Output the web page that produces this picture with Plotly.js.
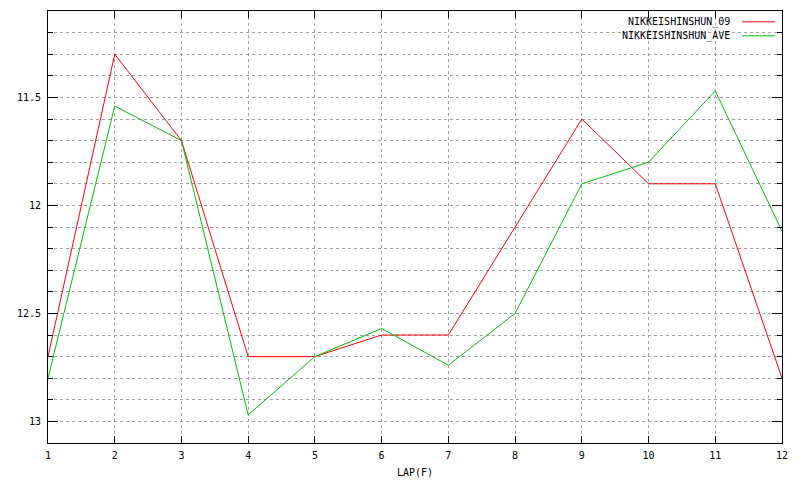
<!DOCTYPE html>
<html>
<head>
<meta charset="utf-8">
<script src="https://cdn.plot.ly/plotly-3.0.1.min.js"></script>
<style>html,body{margin:0;padding:0;background:#fff;}#chart{width:800px;height:480px;}</style>
</head>
<body>
<div id="chart"></div>
<script>
const laps = [1, 2, 3, 4, 5, 6, 7, 8, 9, 10, 11, 12];
const seriesNames = ["NIKKEISHINSHUN_09", "NIKKEISHINSHUN_AVE"];
const nikkei09 = [12.7, 11.3, 11.7, 12.7, 12.7, 12.6, 12.6, 12.1, 11.6, 11.9, 11.9, 12.8];
const nikkeiAve = [12.8, 11.54, 11.7, 12.97, 12.7, 12.57, 12.74, 12.5, 11.9, 11.8, 11.47, 12.12];
const yTickVals = [11.5, 12, 12.5, 13];
const yTickText = ["11.5", "12", "12.5", "13"];
const colors = ["#ff0000", "#00c000"];

const fontFam = "DejaVu Sans Mono, monospace";
const traces = [nikkei09, nikkeiAve].map((vals, i) => ({
  x: laps, y: vals, type: "scatter", mode: "lines", name: seriesNames[i],
  line: {color: colors[i], width: 1}, showlegend: false, hoverinfo: "skip"
}));

const annotations = [];
const shapes = [];
seriesNames.forEach((nm, i) => {
  const yy = 0.975 - i * 0.0325;
  annotations.push({xref: "paper", yref: "paper", x: 0.9325, y: yy, text: nm,
    showarrow: false, xanchor: "right", yanchor: "middle",
    font: {family: fontFam, size: 10, color: "#000"}});
  shapes.push({type: "line", xref: "paper", yref: "paper", x0: 0.9455, x1: 0.9905, y0: yy, y1: yy,
    line: {color: colors[i], width: 1}});
});

const layout = {
  width: 800, height: 480,
  margin: {l: 48, r: 18, t: 11, b: 37, pad: 0},
  paper_bgcolor: "#fff", plot_bgcolor: "#fff",
  font: {family: fontFam, size: 10, color: "#000"},
  xaxis: {
    range: [1, 12], tickmode: "array", tickvals: laps, ticktext: laps.map(String),
    ticks: "inside", ticklen: 7, tickcolor: "#000", tickwidth: 1,
    showline: true, linecolor: "#000", linewidth: 1, mirror: "allticks",
    showgrid: true, gridcolor: "#a0a0a0", griddash: "3px,3px", gridwidth: 1,
    zeroline: false, tickfont: {family: fontFam, size: 10}, ticklabelstandoff: 3,
    title: {text: "LAP(F)", font: {family: fontFam, size: 10}, standoff: 8}
  },
  yaxis: {
    range: [13.1, 11.1], tickmode: "array", tickvals: yTickVals, ticktext: yTickText,
    ticks: "inside", ticklen: 10, tickcolor: "#000", tickwidth: 1,
    showline: true, linecolor: "#000", linewidth: 1, mirror: "allticks",
    showgrid: true, gridcolor: "#a0a0a0", griddash: "3px,3px", gridwidth: 1,
    zeroline: false, tickfont: {family: fontFam, size: 10}, ticklabelstandoff: 4,
    minor: {dtick: 0.1, tick0: 11.1, ticks: "inside", ticklen: 5, tickcolor: "#000",
      showgrid: true, gridcolor: "#a0a0a0", griddash: "3px,3px", gridwidth: 1}
  },
  annotations: annotations,
  shapes: shapes,
  showlegend: false
};

Plotly.newPlot("chart", traces, layout, {staticPlot: true, displayModeBar: false});
</script>
</body>
</html>
